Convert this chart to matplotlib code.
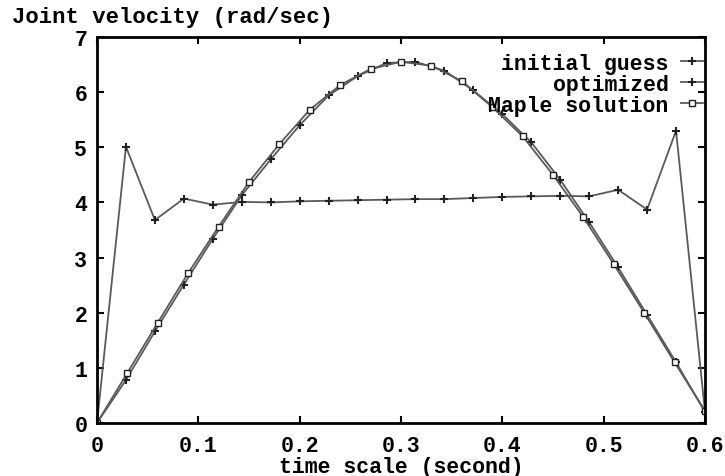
import numpy as np
import matplotlib
matplotlib.use("Agg")
import matplotlib.pyplot as plt

# time grids
n_init = 21
t_grid = [0.6 * k / n_init for k in range(n_init + 1)]
t_maple = [0.03 * k for k in range(21)]

initial_guess = [0, 5.01, 3.68, 4.07, 3.96, 4.01, 4.00, 4.02, 4.03, 4.04, 4.05,
                 4.06, 4.06, 4.08, 4.10, 4.11, 4.12, 4.11, 4.23, 3.87, 5.30, 0.20]
optimized = [0, 0.78, 1.66, 2.51, 3.34, 4.13, 4.78, 5.40, 5.94, 6.29, 6.53,
             6.55, 6.39, 6.03, 5.60, 5.09, 4.41, 3.64, 2.82, 1.96, 1.10, 0.20]
maple = [0, 0.91, 1.82, 2.72, 3.56, 4.37, 5.06, 5.68, 6.13, 6.42, 6.55,
         6.48, 6.20, 5.73, 5.20, 4.50, 3.73, 2.88, 2.00, 1.10, 0.22]

xticks = [0, 0.1, 0.2, 0.3, 0.4, 0.5, 0.6]
xtick_labels = ["0", "0.1", "0.2", "0.3", "0.4", "0.5", "0.6"]
yticks = [0, 1, 2, 3, 4, 5, 6, 7]
ytick_labels = ["0", "1", "2", "3", "4", "5", "6", "7"]

FONT = ["Liberation Mono", "DejaVu Sans Mono"]
FS = 15.5

fig = plt.figure(figsize=(7.25, 4.77), dpi=100)
ax = fig.add_axes([97 / 725, 1 - 424 / 477, (705 - 97) / 725, (424 - 38) / 477])

lc = "#5a5a5a"
ax.plot(t_grid, initial_guess, color=lc, lw=1.3, marker="+", ms=6, mew=1.5,
        mec="#222222", label="initial guess")
ax.plot(t_grid, optimized, color=lc, lw=1.3, marker="+", ms=6, mew=1.5,
        mec="#222222", label="optimized")
ax.plot(t_maple, maple, color=lc, lw=1.3, marker="s", ms=4.5, mew=1.0,
        mfc="white", mec="#222222", label="Maple solution")

ax.set_xlim(0, 0.6)
ax.set_ylim(0, 7)
ax.set_xticks(xticks)
ax.set_xticklabels(xtick_labels)
ax.set_yticks(yticks)
ax.set_yticklabels(ytick_labels)
ax.tick_params(direction="in", length=5, width=1.5, top=True, right=True)
ax.tick_params(axis="x", pad=9)
ax.tick_params(axis="y", pad=7)
for lab in ax.get_xticklabels() + ax.get_yticklabels():
    lab.set_fontfamily(FONT)
    lab.set_fontweight("bold")
    lab.set_fontsize(FS)
for sp in ax.spines.values():
    sp.set_linewidth(2)

ax.set_xlabel("time scale (second)", family=FONT, weight="bold", fontsize=FS,
              labelpad=0)
fig.text(12 / 725, 1 - 18 / 477, "Joint velocity (rad/sec)", family=FONT,
         weight="bold", fontsize=16, ha="left", va="center")

leg = ax.legend(loc="upper right", bbox_to_anchor=(1.0, 0.965), frameon=False,
                markerfirst=False,
                prop={"family": FONT, "weight": "bold", "size": FS},
                handlelength=1.0, labelspacing=0.0, borderaxespad=0.0,
                borderpad=0.1, handletextpad=0.6)

fig.savefig("out.png", dpi=100)
